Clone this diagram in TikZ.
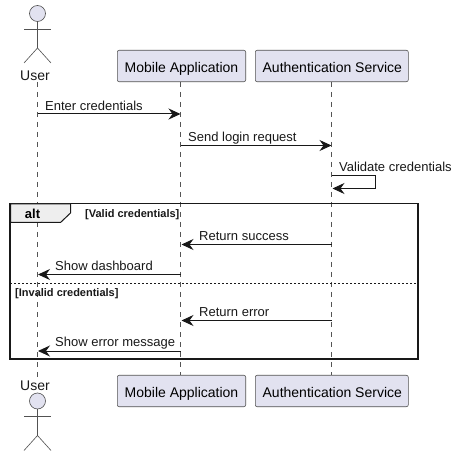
\documentclass[tikz,border=0pt]{standalone}
\usepackage{fontspec}
\setmainfont{Liberation Sans}
\usetikzlibrary{arrows.meta}
\definecolor{partfill}{HTML}{E2E2F0}
\definecolor{partline}{HTML}{181818}
\definecolor{lifeline}{HTML}{555555}
\definecolor{tabfill}{HTML}{EEEEEE}
\tikzset{
  x=1pt,y=-1pt,
  partbox/.style={draw=partline!75,fill=partfill,rounded corners=2pt,line width=0.6pt,minimum height=31.5pt,inner sep=0pt,font=\fontsize{14}{16}\selectfont,anchor=center},
  lifelinestyle/.style={draw=lifeline,line width=0.6pt,dash pattern=on 5pt off 5pt},
  msg/.style={draw=partline,line width=1pt,-{Stealth[length=12pt,width=11pt,inset=4pt]}},
  msglabel/.style={font=\fontsize{13}{15}\selectfont,inner sep=0pt,anchor=base west,text=black!90},
  actorlabel/.style={font=\fontsize{14}{16}\selectfont,inner sep=0pt,text=black!90,anchor=base},
  actorline/.style={draw=partline!75,line width=0.6pt},
  guard/.style={font=\bfseries\fontsize{11}{13}\selectfont,inner sep=0pt,text=black!90,anchor=base west},
  framebox/.style={draw=black!90,line width=1.5pt},
}
\newcommand{\actorfig}[2]{%
  \draw[actorline,fill=partfill] (#1,#2) circle[radius=8];
  \draw[actorline] (#1,#2+8) -- (#1,#2+34.5);
  \draw[actorline] (#1-13.5,#2+15.5) -- (#1+13.5,#2+15.5);
  \draw[actorline] (#1-13.5,#2+49.5) -- (#1,#2+34.5) -- (#1+13.5,#2+49.5);
}
\newcommand{\boxtext}[2][6]{\raisebox{-#1pt}[0pt][0pt]{#2}}
\begin{document}
\begin{tikzpicture}
\useasboundingbox (0,0) rectangle (458,457);
\fill[white] (0,0) rectangle (458,457);
% lifeline ends
\coordinate (uT) at (37.5,82); \coordinate (uB) at (37.5,377);
\coordinate (mT) at (180.5,82); \coordinate (mB) at (180.5,375);
\coordinate (aT) at (331.5,82); \coordinate (aB) at (331.5,375);
\draw[lifelinestyle] (uT) -- (uB);
\draw[lifelinestyle] (mT) -- (mB);
\draw[lifelinestyle] (aT) -- (aB);
% actors
\actorfig{37.5}{13.5}
\node[actorlabel] (userT) at (35,80.7) {User};
\node[actorlabel] (userB) at (35,390) {User};
\actorfig{37.5}{401}
% participants
\node[partbox,minimum width=128.4pt] (mobT) at (181.5,66) {\boxtext[6.5]{Mobile Application}};
\node[partbox,minimum width=153pt] (autT) at (331.8,66) {\boxtext[6.5]{\hspace{1pt}Authentication Service}};
\node[partbox,minimum width=128.4pt] (mobB) at (181.5,391) {\boxtext{Mobile Application}};
\node[partbox,minimum width=153pt] (autB) at (331.8,391) {\boxtext{\hspace{1pt}Authentication Service}};
% frame
\draw[framebox] (10,203.5) rectangle (418,359);
\draw[line width=1pt,draw=black!90,fill=tabfill] (10.5,204) -- (70.5,204) -- (70.5,213) -- (60.5,222.5) -- (10.5,222.5) -- cycle;
\node[font=\bfseries\fontsize{13}{15}\selectfont,inner sep=0pt,anchor=base] (alt) at (32.5,218.5) {alt};
\node[guard] (g1) at (85,217.5) {[Valid credentials]};
\coordinate (divL) at (10,283.5); \coordinate (divR) at (418,283.5);
\draw[line width=0.6pt,draw=black!90,dash pattern=on 2pt off 2pt] (divL) -- (divR);
\node[guard] (g2) at (15,296) {[Invalid credentials]};
% messages
\coordinate (m1a) at (37.5,114); \coordinate (m1b) at (180.5,114);
\draw[msg] (m1a) -- (m1b);
\node[msglabel] (l1) at (45,110.5) {Enter credentials};
\coordinate (m2a) at (180.5,145.5); \coordinate (m2b) at (331.5,145.5);
\draw[msg] (m2a) -- (m2b);
\node[msglabel] (l2) at (188,141.5) {Send login request};
\coordinate (m3a) at (331.5,175.5); \coordinate (m3r) at (375,175.5); \coordinate (m3s) at (375,188.5); \coordinate (m3b) at (332.5,188.5);
\draw[msg] (m3a) -- (m3r) -- (m3s) -- (m3b);
\node[msglabel] (l3) at (339,171.5) {Validate credentials};
\coordinate (m4a) at (331.5,244.5); \coordinate (m4b) at (181.5,244.5);
\draw[msg] (m4a) -- (m4b);
\node[msglabel] (l4) at (199,240.5) {Return success};
\coordinate (m5a) at (180.5,274.5); \coordinate (m5b) at (38,274.5);
\draw[msg] (m5a) -- (m5b);
\node[msglabel] (l5) at (55,270.5) {Show dashboard};
\coordinate (m6a) at (331.5,320.5); \coordinate (m6b) at (181.5,320.5);
\draw[msg] (m6a) -- (m6b);
\node[msglabel] (l6) at (199,316.5) {Return error};
\coordinate (m7a) at (180.5,351); \coordinate (m7b) at (38,351);
\draw[msg] (m7a) -- (m7b);
\node[msglabel] (l7) at (55,346.5) {Show error message};
\end{tikzpicture}
\end{document}
